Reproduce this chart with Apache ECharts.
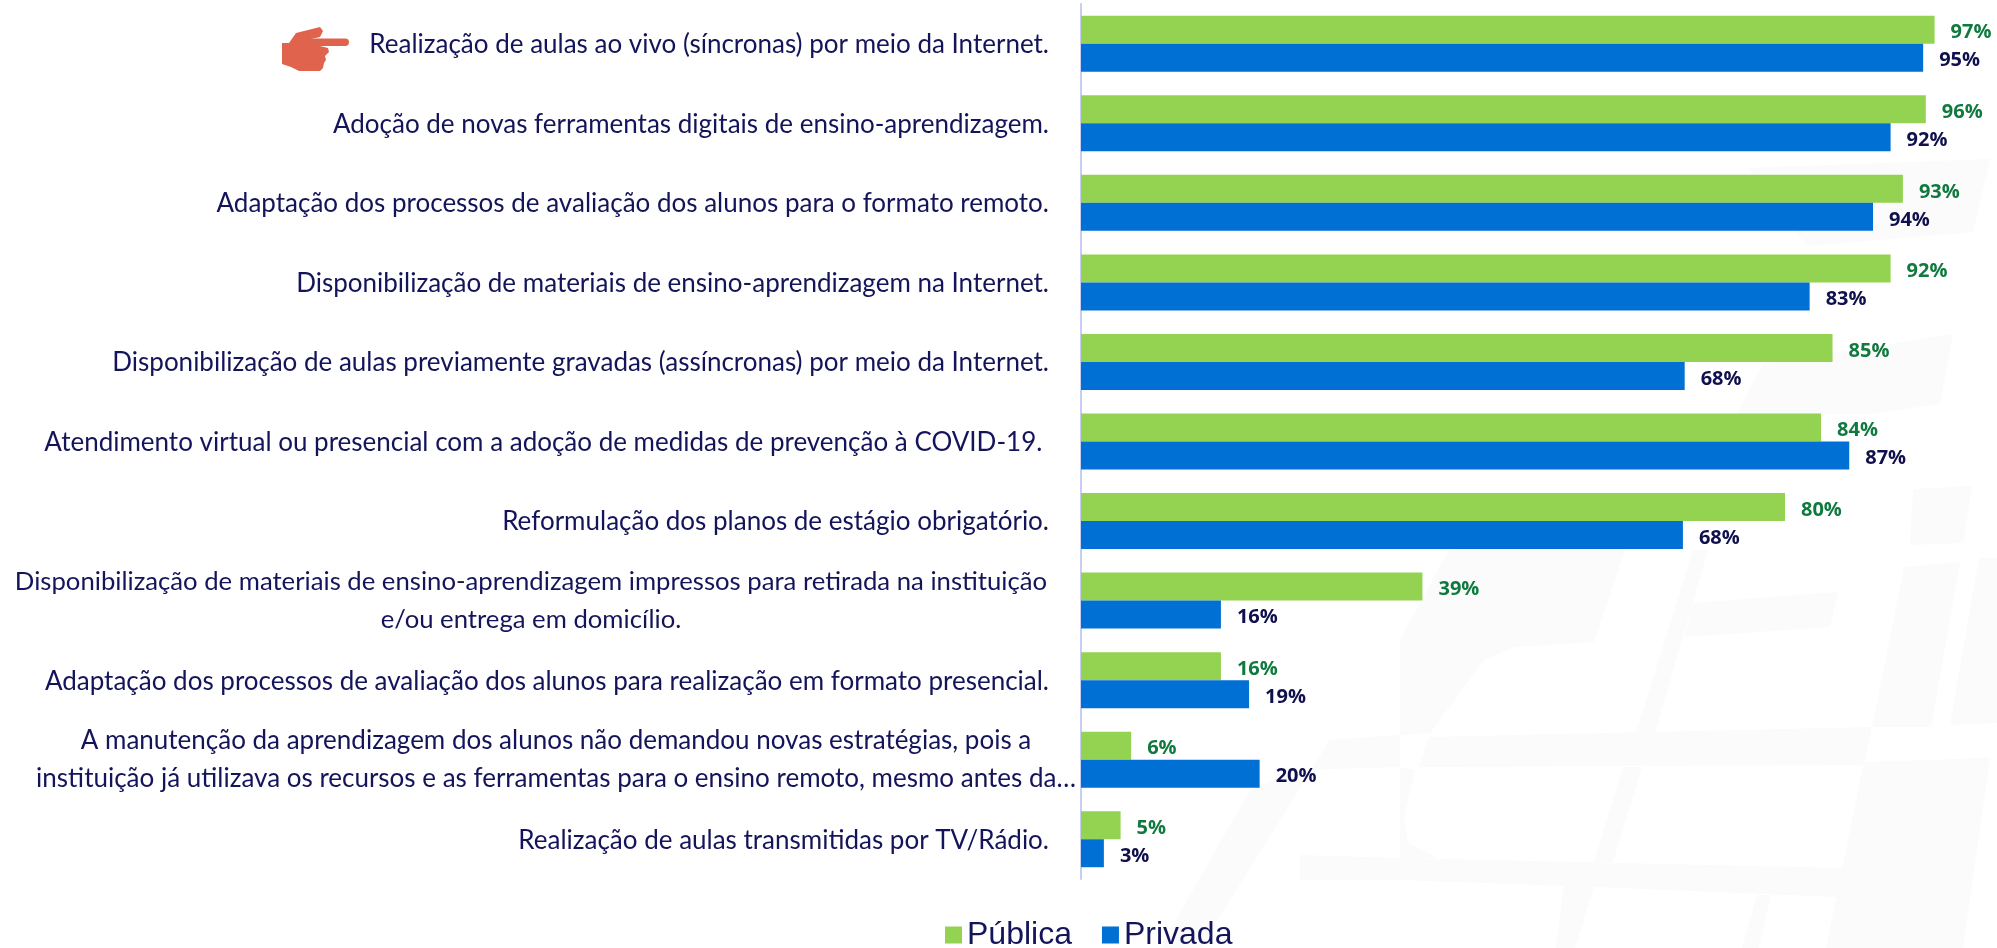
<!DOCTYPE html>
<html>
<head>
<meta charset="utf-8">
<script src="https://cdn.jsdelivr.net/npm/echarts@6/dist/echarts.min.js"></script>
<style>
  html, body { margin: 0; padding: 0; background: #fff; }
  #chart { width: 1997px; height: 948px; }
</style>
</head>
<body>
<div id="chart"></div>
<script>
const categories = [
  "Realização de aulas ao vivo (síncronas) por meio da Internet.",
  "Adoção de novas ferramentas digitais de ensino-aprendizagem.",
  "Adaptação dos processos de avaliação dos alunos para o formato remoto.",
  "Disponibilização de materiais de ensino-aprendizagem na Internet.",
  "Disponibilização de aulas previamente gravadas (assíncronas) por meio da Internet.",
  "Atendimento virtual ou presencial com a adoção de medidas de prevenção à COVID-19. ",
  "Reformulação dos planos de estágio obrigatório.",
  "Disponibilização de materiais de ensino-aprendizagem impressos para retirada na instituição\ne/ou entrega em domicílio.",
  "Adaptação dos processos de avaliação dos alunos para realização em formato presencial.",
  "A manutenção da aprendizagem dos alunos não demandou novas estratégias, pois a\ninstituição já utilizava os recursos e as ferramentas para o ensino remoto, mesmo antes da…",
  "Realização de aulas transmitidas por TV/Rádio."
];
// comprimento das barras
const publica = [97, 96, 93.4, 92, 85.4, 84.1, 80, 38.8, 15.9, 5.7, 4.5];
const privada = [95.7, 92, 90, 82.8, 68.6, 87.3, 68.4, 15.9, 19.1, 20.3, 2.6];
// rótulos impressos
const publicaLabels = ["97%", "96%", "93%", "92%", "85%", "84%", "80%", "39%", "16%", "6%", "5%"];
const privadaLabels = ["95%", "92%", "94%", "83%", "68%", "87%", "68%", "16%", "19%", "20%", "3%"];

const textColor = "#14145a";
const labelFont = 'Lato, "Liberation Sans", sans-serif';

// marca d'agua do slide
const watermark = [
  [[1449, 550], [1625, 550], [1594, 642], [1514, 647], [1484, 660], [1430, 733], [1400, 735], [1400, 640]],
  [[1693, 550], [1708, 550], [1655, 733], [1636, 733]],
  [[1693, 603], [1838, 592], [1830, 627], [1685, 637]],
  [[1429, 737], [1872, 727], [1864, 765], [1419, 767]],
  [[1904, 567], [1960, 562], [1931, 727], [1872, 727]],
  [[1979, 558], [1997, 558], [1997, 723], [1950, 725]],
  [[1864, 762], [1990, 758], [1963, 948], [1826, 948]],
  [[1623, 767], [1642, 767], [1613, 862], [1594, 862]],
  [[1400, 858], [1843, 868], [1838, 897], [1594, 887], [1400, 880]],
  [[1757, 895], [1771, 895], [1759, 948], [1742, 948]],
  [[1400, 767], [1415, 770], [1404, 817], [1408, 843], [1438, 858], [1400, 858]],
  [[1564, 883], [1594, 887], [1575, 948], [1556, 948]],
  [[1913, 489], [1972, 486], [1963, 543], [1910, 545]],
  [[1748, 168], [1990, 159], [1973, 232], [1807, 246]],
  [[1763, 364], [1953, 334], [1940, 404], [1870, 414], [1737, 414]],
  [[1160, 948], [1250, 790], [1300, 770], [1400, 767], [1400, 735], [1330, 740], [1200, 948]],
  [[1300, 880], [1400, 880], [1400, 858], [1300, 855]]
];

let chart = echarts.init(document.getElementById("chart"), null, { renderer: "canvas" });
chart.setOption({
  animation: false,
  backgroundColor: "#fff",
  graphic: watermark.map((points) => ({
    type: "polygon", z: -1, silent: true,
    shape: { points: points },
    style: { fill: "#fbfbfb" }
  })).concat([
    // mão apontando
    { type: "polygon", z: 10, silent: true, shape: { points: [[282, 43], [289, 43], [296, 33], [320, 27], [323, 31], [320, 37], [306, 40], [320, 46], [328, 48], [329, 52], [325, 56], [326, 60], [324, 63], [323, 68], [320, 71], [299, 71], [291, 67], [282, 64]] }, style: { fill: "#e0634e" } },
    { type: "rect", z: 10, silent: true, shape: { x: 303, y: 38.5, width: 46, height: 7.5, r: 3.7 }, style: { fill: "#e0634e" } }
  ]),
  legend: {
    left: 940, top: 914,
    itemWidth: 17, itemHeight: 17, itemGap: 30,
    icon: "rect",
    textStyle: { color: textColor, fontSize: 32, fontFamily: '"Liberation Sans", sans-serif' },
    data: ["Pública", "Privada"]
  },
  grid: { left: 1081, top: 4, width: 880, height: 875, outerBoundsMode: "none" },
  xAxis: { type: "value", min: 0, max: 100, show: false },
  yAxis: {
    type: "category",
    inverse: true,
    data: categories,
    axisTick: { show: false },
    axisLine: { show: true, lineStyle: { color: "#c9cdf2", width: 2 } },
    axisLabel: {
      margin: 1,
      interval: 0,
      color: textColor,
      fontSize: 26,
      fontFamily: labelFont,
      lineHeight: 38,
      formatter: function (value) {
        let lines = value.split("\n");
        if (lines.length == 1) return "{n|" + value + "}";
        let key = lines[1].endsWith("…") ? "w" : "c";
        return lines.map((l) => "{" + key + "|" + l + "}").join("\n");
      },
      rich: {
        n: { fontSize: 26, fontFamily: labelFont, color: textColor, padding: [2, 31, 0, 0] },
        c: { fontSize: 25.7, fontFamily: labelFont, color: textColor, width: 1036, align: "center", padding: [0, 31, 0, 0] },
        w: { fontSize: 26, fontFamily: labelFont, color: textColor, width: 1048, align: "center" }
      }
    }
  },
  series: [
    {
      name: "Pública",
      type: "bar",
      data: publica,
      barGap: 0,
      barCategoryGap: "29.6%",
      itemStyle: { color: "#94d351" },
      label: {
        show: true, position: "right", distance: 16, offset: [0, 3],
        color: "#107a3e", fontSize: 20, fontWeight: "bold", fontFamily: '"Open Sans", sans-serif',
        formatter: (p) => publicaLabels[p.dataIndex]
      }
    },
    {
      name: "Privada",
      type: "bar",
      data: privada,
      itemStyle: { color: "#0070d4" },
      label: {
        show: true, position: "right", distance: 16, offset: [0, 3],
        color: "#10104f", fontSize: 20, fontWeight: "bold", fontFamily: '"Open Sans", sans-serif',
        formatter: (p) => privadaLabels[p.dataIndex]
      }
    }
  ]
});
</script>
</body>
</html>
